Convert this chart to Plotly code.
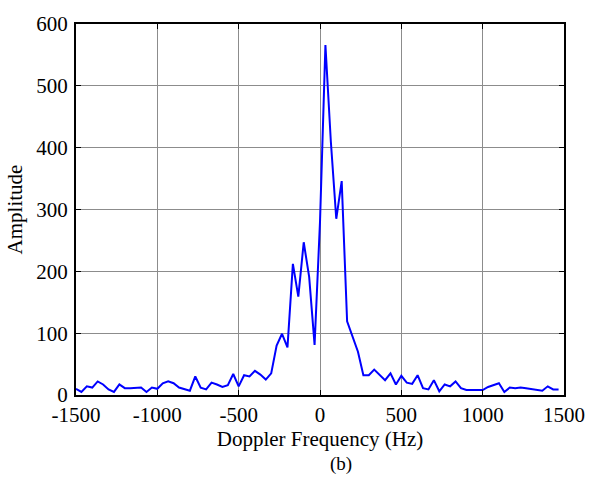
import numpy as np
import plotly.graph_objects as go

# Doppler spectrum: 90 bins from -1500 Hz, step 3000/90 Hz
f_start = -1500.0
f_step = 3000.0 / 90
amplitude = [
    10, 5, 14, 12, 22, 17, 9, 5, 17, 11, 11, 12, 12, 5, 12,
    10, 19, 22, 19, 12, 9.5, 7, 30, 12, 9, 20, 17, 13, 16, 34, 14, 32, 30, 39,
    33, 25, 35, 80, 99, 77, 212, 159, 247, 191, 81, 280, 566, 410, 285, 346,
    119, 95, 70, 32, 32, 41, 32, 24,
    35, 17, 31, 20, 18, 32, 11, 9, 24,
    6, 17, 14, 22, 11, 8, 8, 9, 8, 13, 16, 19, 5, 12, 11, 12,
    11, 10, 9, 7, 14, 9, 9,
]
frequency = [f_start + i * f_step for i in range(len(amplitude))]

x_ticks = [-1500, -1000, -500, 0, 500, 1000, 1500]
y_ticks = [0, 100, 200, 300, 400, 500, 600]

FONT = "Liberation Serif"

fig = go.Figure()
fig.add_trace(go.Scatter(
    x=frequency, y=amplitude, mode="lines",
    line=dict(color="#0000FF", width=2),
    showlegend=False,
))

axis_common = dict(
    showline=True, linecolor="black", linewidth=2, mirror="ticks",
    ticks="inside", ticklen=5, tickcolor="black", tickwidth=1,
    showgrid=True, gridcolor="#8c8c8c", gridwidth=1,
    zeroline=False,
    tickfont=dict(family=FONT, size=21, color="black"),
)

fig.update_xaxes(
    range=[-1500, 1500], tickvals=x_ticks, ticktext=[str(v) for v in x_ticks],
    title=dict(text="Doppler Frequency (Hz)", font=dict(family=FONT, size=21, color="black"), standoff=0),
    **axis_common,
)
fig.update_yaxes(
    range=[0, 600], tickvals=y_ticks, ticktext=[str(v) for v in y_ticks],
    ticklabelstandoff=2,
    title=dict(text="Amplitude", font=dict(family=FONT, size=21, color="black"), standoff=8),
    **axis_common,
)

fig.add_annotation(
    text="(b)", x=0.543, xref="paper", y=-0.186, yref="paper",
    xanchor="center", yanchor="middle", showarrow=False,
    font=dict(family=FONT, size=19, color="black"),
)

fig.update_layout(
    width=597, height=477,
    margin=dict(l=76, r=29, t=12, b=82),
    plot_bgcolor="white", paper_bgcolor="white",
)

fig.write_html("out.html")
